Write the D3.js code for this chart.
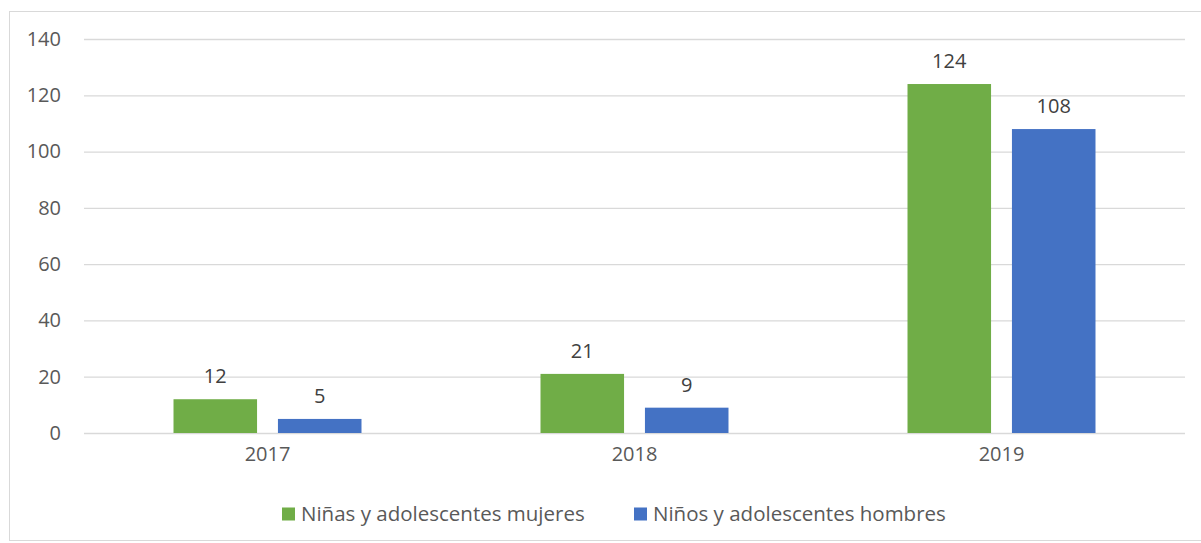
<!DOCTYPE html>
<html><head><meta charset="utf-8">
<script src="https://cdn.jsdelivr.net/npm/d3@7"></script>
<style>body{margin:0;background:#fff}svg{display:block}text{font-family:"Open Sans",sans-serif}</style>
</head><body>
<svg id="c" width="1201" height="543"></svg>
<script>
const years = ["2017","2018","2019"];
const seriesNames = ["Niñas y adolescentes mujeres","Niños y adolescentes hombres"];
const mujeres = [12,21,124];
const hombres = [5,9,108];
const yTicks = [0,20,40,60,80,100,120,140];
const colors = ["#70AD47","#4472C4"];

const svg = d3.select("#c");
svg.append("rect").attr("x",9.5).attr("y",11.5).attr("width",1200).attr("height",529)
  .attr("fill","#fff").attr("stroke","#d9d9d9");

const pL=84, pR=1185, pT=39, pB=433;
const y = d3.scaleLinear().domain([0,140]).range([pB,pT]);
const x0 = d3.scaleBand().domain(years).range([pL,pR]).padding(0);
const x1 = d3.scaleBand().domain(seriesNames).range([0,x0.bandwidth()]).paddingInner(0.2).paddingOuter(0.857);

const yAxis = d3.axisLeft(y).tickValues(yTicks).tickSize(-(pR-pL)).tickPadding(23);
const ga = svg.append("g").attr("transform",`translate(${pL},0)`).call(yAxis);
ga.select(".domain").remove();
ga.selectAll(".tick line").attr("stroke","#d9d9d9").attr("stroke-width",1.3);
ga.selectAll(".tick text").attr("fill","#595959").attr("font-size",20).attr("font-family","Open Sans");

const xAxis = d3.axisBottom(x0).tickSize(0).tickPadding(14);
const gx = svg.append("g").attr("transform",`translate(0,${pB})`).call(xAxis);
gx.select(".domain").remove();
gx.selectAll(".tick text").attr("fill","#595959").attr("font-size",20).attr("font-family","Open Sans");

const data = years.map((yr,i)=>({year:yr, vals:[mujeres[i],hombres[i]]}));
const groups = svg.selectAll("g.grp").data(data).enter().append("g").attr("class","grp")
  .attr("transform",d=>`translate(${x0(d.year)},0)`);
groups.selectAll("rect").data(d=>d.vals.map((v,j)=>({v,s:seriesNames[j],j}))).enter().append("rect")
  .attr("x",d=>x1(d.s)).attr("width",x1.bandwidth())
  .attr("y",d=>y(d.v)).attr("height",d=>pB-y(d.v)).attr("fill",d=>colors[d.j]);
groups.selectAll("text.val").data(d=>d.vals.map((v,j)=>({v,s:seriesNames[j],j}))).enter().append("text")
  .attr("class","val").attr("x",d=>x1(d.s)+x1.bandwidth()/2).attr("y",d=>y(d.v)-16)
  .attr("text-anchor","middle").attr("fill","#404040").attr("font-size",20).text(d=>d.v);

const lg = svg.append("g").attr("transform","translate(282,514)");
const items = lg.selectAll("g").data(seriesNames).enter().append("g")
  .attr("transform",(d,i)=>`translate(${i===0?0:352},0)`);
items.append("rect").attr("x",0).attr("y",-6.5).attr("width",13).attr("height",13).attr("fill",(d,i)=>colors[i]);
items.append("text").attr("x",19).attr("y",0).attr("dy","0.35em").attr("fill","#595959").attr("font-size",20.5).text(d=>d);
</script>
</body></html>
